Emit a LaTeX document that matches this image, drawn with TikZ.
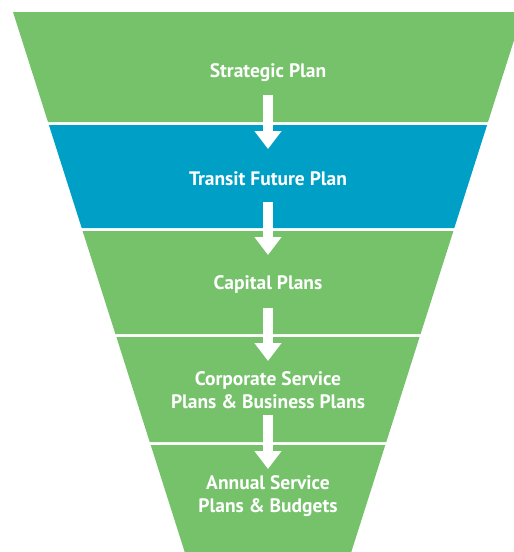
\documentclass[tikz,border=0pt]{standalone}
\usepackage{fontspec}
\setmainfont{PT Sans}
\usetikzlibrary{arrows.meta}
\definecolor{fgreen}{RGB}{117,194,107}
\definecolor{fblue}{RGB}{0,160,198}
\tikzset{
  label/.style={text=white,font=\bfseries\fontsize{19.5}{22.5}\selectfont,align=center,inner sep=0pt},
  flow/.style={draw=white,line width=10pt,-{Triangle[width=26pt,length=18pt]},shorten >=0pt},
}
\begin{document}
\begin{tikzpicture}[x=1pt,y=-1pt]
\useasboundingbox (0,0) rectangle (514,552);
\clip (0,0) rectangle (514,552);
\fill[fgreen] (13,12) -- (523,12) -- (488,122) -- (48,122) -- cycle;
\fill[fblue] (48.9,125) -- (487.1,125) -- (454.3,228) -- (81.7,228) -- cycle;
\fill[fgreen] (82.6,231) -- (453.4,231) -- (420.6,334) -- (115.4,334) -- cycle;
\fill[fgreen] (116.4,337) -- (419.6,337) -- (386.3,442) -- (149.7,442) -- cycle;
\fill[fgreen] (150.7,445) -- (385.3,445) -- (351.3,552) -- (184.7,552) -- cycle;
\node[label] (n1) at (268,72.5) {Strategic Plan};
\node[label] (n2) at (268,179) {Transit Future Plan};
\node[label] (n3) at (268,284.5) {Capital Plans};
\node[label] (n4) at (268,390) {Corporate Service\\Plans \& Business Plans};
\node[label] (n5) at (268,496) {Annual Service\\Plans \& Budgets};
\coordinate (a1s) at (268,95);  \coordinate (a1e) at (268,149);
\coordinate (a2s) at (268,202); \coordinate (a2e) at (268,255);
\coordinate (a3s) at (268,308); \coordinate (a3e) at (268,361);
\coordinate (a4s) at (268,415); \coordinate (a4e) at (268,469);
\draw[flow] (a1s) -- (a1e);
\draw[flow] (a2s) -- (a2e);
\draw[flow] (a3s) -- (a3e);
\draw[flow] (a4s) -- (a4e);
\end{tikzpicture}
\end{document}
